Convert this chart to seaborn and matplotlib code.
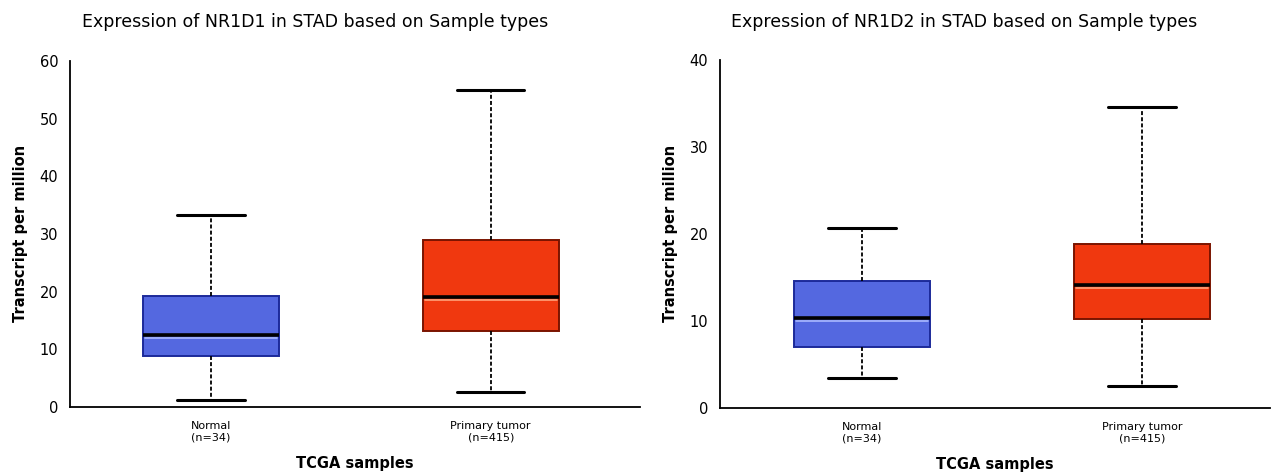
import matplotlib
matplotlib.use("Agg")
import matplotlib.pyplot as plt
import matplotlib.transforms as mtransforms
import numpy as np
import pandas as pd
import seaborn as sns

# Box summaries: [lower whisker, Q1, median, Q3, upper whisker]
groups = ["Normal\n(n=34)", "Primary tumor\n(n=415)"]
nr1d1_normal = [1.2, 8.8, 12.5, 19.2, 33.2]
nr1d1_tumor = [2.6, 13.2, 19.1, 28.9, 55.0]
nr1d2_normal = [3.4, 7.0, 10.3, 14.6, 20.7]
nr1d2_tumor = [2.5, 10.2, 14.1, 18.8, 34.6]

genes = ["NR1D1", "NR1D2"]
y_max = [60, 40]
y_ticks = [[0, 10, 20, 30, 40, 50, 60], [0, 10, 20, 30, 40]]

box_colors = ["#5468e0", "#f0380f"]
edge_colors = ["#1c2a9a", "#7a1400"]
glow_colors = ["#a9b8ff", "#ffa27a"]


def make_frame(normal, tumor):
    return pd.DataFrame({
        "group": [groups[0]] * len(normal) + [groups[1]] * len(tumor),
        "tpm": normal + tumor,
    })


def draw_panel(ax, df, gene, ymax, ticks, xlim):
    sns.boxplot(
        data=df, x="group", y="tpm", hue="group", palette=box_colors,
        saturation=1, legend=False, whis=(0, 100), width=0.486,
        showfliers=False, linewidth=1.4, ax=ax,
        boxprops=dict(linewidth=1.4),
        whiskerprops=dict(color="black", linestyle=(0, (2.2, 1.2)), linewidth=1.3),
        capprops=dict(color="black", linewidth=2.2),
        medianprops=dict(color="black", linewidth=2.6),
    )
    # edges of the boxes a darker tone of the fill
    for patch, ec in zip(ax.patches, edge_colors):
        patch.set_edgecolor(ec)
    # cap width ~ half of the box
    for ln in ax.lines:
        xd = np.asarray(ln.get_xdata(), dtype=float)
        yd = np.asarray(ln.get_ydata(), dtype=float)
        if len(xd) == 2 and yd[0] == yd[1] and ln.get_linewidth() == 2.2:
            mid = xd.mean()
            ln.set_xdata([mid - 0.12, mid + 0.12])
    # light glow just below each median line
    medians = df.groupby("group", sort=False)["tpm"].median().values
    off = mtransforms.offset_copy(ax.transData, fig=ax.figure, x=0, y=-2.2, units="points")
    for i, (m, gc) in enumerate(zip(medians, glow_colors)):
        ax.plot([i - 0.236, i + 0.236], [m, m], color=gc, linewidth=1.2,
                transform=off, zorder=5)

    ax.set_xlim(*xlim)
    ax.set_ylim(0, ymax)
    ax.set_yticks(ticks)
    ax.tick_params(axis="y", labelsize=10.5, length=5, width=1.3,
                   direction="out", colors="black")
    ax.tick_params(axis="x", labelsize=8, length=0, pad=10, colors="black")
    for s in ["top", "right"]:
        ax.spines[s].set_visible(False)
    for s in ["left", "bottom"]:
        ax.spines[s].set_linewidth(1.3)
        ax.spines[s].set_color("black")
    ax.set_xlabel("TCGA samples", fontsize=10.5, fontweight="bold",
                  labelpad=10, color="black")
    ax.set_ylabel("Transcript per million", fontsize=10.5, fontweight="bold",
                  labelpad=8, color="black")


sns.set_theme(style="white")
plt.rcParams["font.family"] = ["DejaVu Sans"]

fig = plt.figure(figsize=(12.77, 4.75), dpi=100)
ax1 = fig.add_axes([0.0548, 0.143, 0.446, 0.729])
ax2 = fig.add_axes([0.5638, 0.1417, 0.4307, 0.732])

draw_panel(ax1, make_frame(nr1d1_normal, nr1d1_tumor), genes[0], y_max[0],
           y_ticks[0], (-0.504, 1.532))
draw_panel(ax2, make_frame(nr1d2_normal, nr1d2_tumor), genes[1], y_max[1],
           y_ticks[1], (-0.507, 1.457))

for xc, gene in zip([315, 964], genes):
    fig.text(xc / 1277, 1 - 22 / 475,
             f"Expression of {gene} in STAD based on Sample types",
             ha="center", va="center", fontsize=12.5, color="black")

fig.savefig("out.png", dpi=100)
